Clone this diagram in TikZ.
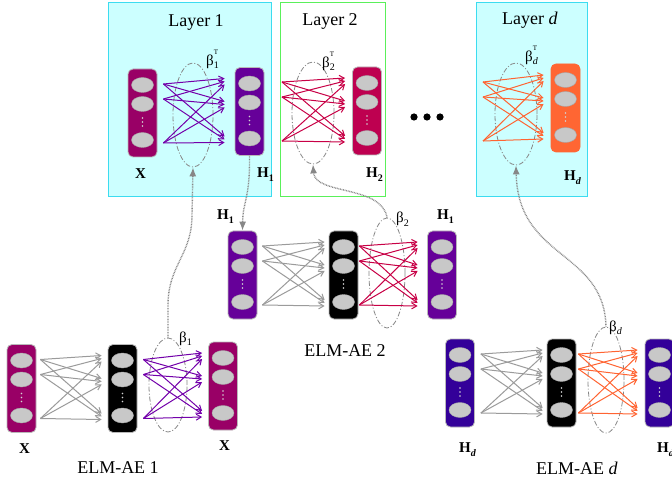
\documentclass[tikz,border=0pt]{standalone}
\usepackage{fontspec}
\setmainfont{Liberation Serif}
\usetikzlibrary{arrows.meta,calc,shapes.geometric}
\definecolor{cyanfill}{RGB}{204,255,255}
\definecolor{cyanline}{RGB}{60,220,240}
\definecolor{greenline}{RGB}{90,240,90}
\definecolor{xcol}{RGB}{153,0,102}
\definecolor{hcol}{RGB}{102,0,153}
\definecolor{htwocol}{RGB}{190,0,80}
\definecolor{hdcol}{RGB}{255,102,51}
\definecolor{hdbcol}{RGB}{51,0,153}
\definecolor{purplearr}{RGB}{115,0,170}
\definecolor{redarr}{RGB}{200,0,70}
\definecolor{orangearr}{RGB}{255,100,50}
\definecolor{grayarr}{RGB}{155,155,155}
\definecolor{cellgray}{RGB}{200,200,200}
\definecolor{linkgray}{RGB}{135,135,135}
\newcommand\Hsub[1]{H\raisebox{-4pt}{\fontsize{10}{10}\selectfont #1}}
\newcommand\betaT[1]{β\rlap{\raisebox{11pt}{\fontsize{7}{7}\selectfont T}}\raisebox{-3pt}{\fontsize{10}{10}\selectfont #1}}
\newcommand\betaS[1]{β\raisebox{-3pt}{\fontsize{10}{10}\selectfont #1}}
\newcommand\cellset[1]{%
  \foreach \dy in {-28,-9,27}{\filldraw[fill=cellgray, draw=gray!70, line width=0.4pt] ($(#1.center)+(0,\dy)$) ellipse [x radius=11pt, y radius=7.5pt];}
  \foreach \dy in {5,9,13}{\fill[gray!35] ($(#1.center)+(0,\dy)$) circle [radius=0.9pt];}
}
\newcommand\bundle[3]{%
  \foreach \s [count=\i] in {-29,-14,30}{
    \foreach \t in {-30,-7,28}{
      \pgfmathsetmacro\tt{\t+(\i-2)*3}
      \draw[wire=#3] ($(#1)+(0,\s)$) -- ($(#2)+(0,\tt)$);
    }}}
\tikzset{
  colbox/.style={draw=gray!55, line width=0.8pt, rounded corners=5pt, minimum width=29pt, minimum height=88pt, inner sep=0pt, fill=#1},
  ringbox/.style={ellipse, draw=linkgray, line width=0.8pt, dash pattern=on 5pt off 2pt on 1pt off 2pt, inner sep=0pt},
  wire/.style={draw=#1, line width=1pt, -{Straight Barb[length=5pt,width=6pt]}},
  link/.style={draw=linkgray, line width=1.4pt, dash pattern=on 0.8pt off 0.8pt, -{Latex[length=9pt,width=7pt]}},
  layerbox/.style={anchor=north west, line width=1pt, inner sep=0pt},
  title/.style={font=\fontsize{18}{21}\selectfont, inner sep=0pt, anchor=base},
  lab/.style={font=\fontsize{15}{17}\selectfont\bfseries, inner sep=0pt, anchor=base west},
  blab/.style={font=\fontsize{15}{17}\selectfont, inner sep=0pt, anchor=base west},
}
\begin{document}
\begin{tikzpicture}[x=1pt,y=-1pt]
\clip (0,0) rectangle (672,481);
\fill[white] (0,0) rectangle (672,481);
% layer boxes
\node[layerbox, draw=cyanline, fill=cyanfill, minimum width=163pt, minimum height=194pt] (B1) at (108,2) {};
\node[layerbox, draw=greenline, fill=white, minimum width=105pt, minimum height=194pt] (B2) at (280,2) {};
\node[layerbox, draw=cyanline, fill=cyanfill, minimum width=111pt, minimum height=194pt] (Bd) at (476,2) {};
\node[title] (T1) at (196,26.5) {Layer 1};
\node[title] (T2) at (330,26) {Layer 2};
\node[title] (Td) at (530,25) {Layer \textit{d}};
% columns
\node[colbox=xcol] (L1X) at (142.5,113) {};
\node[colbox=hcol] (L1H) at (249.5,111.5) {};
\node[colbox=htwocol] (L2H) at (367,111) {};
\node[colbox=hdcol, draw=hdcol] (LdH) at (565.5,108) {};
\node[colbox=hcol] (A2in) at (242.5,275) {};
\node[colbox=black] (A2mid) at (343.5,275) {};
\node[colbox=hcol] (A2out) at (442,275) {};
\node[colbox=xcol] (A1in) at (21.5,388.5) {};
\node[colbox=black] (A1mid) at (122.5,388.5) {};
\node[colbox=xcol] (A1out) at (223,386) {};
\node[colbox=hdbcol] (Adin) at (460,383) {};
\node[colbox=black] (Admid) at (561.5,383) {};
\node[colbox=hdbcol] (Adout) at (659.5,383) {};
\foreach \c in {L1X,L1H,L2H,LdH,A2in,A2mid,A2out,A1in,A1mid,A1out,Adin,Admid,Adout}{\cellset{\c}}
% rings
\node[ringbox, minimum width=40pt, minimum height=104pt] (L1E) at (193,115) {};
\node[ringbox, minimum width=42pt, minimum height=102pt] (L2E) at (313,113) {};
\node[ringbox, minimum width=42pt, minimum height=102pt] (LdE) at (516,114) {};
\node[ringbox, minimum width=36pt, minimum height=110pt] (A2E) at (387,273) {};
\node[ringbox, minimum width=38pt, minimum height=94pt] (A1E) at (168,385) {};
\node[ringbox, minimum width=36pt, minimum height=106pt] (AdE) at (606,380) {};
% bundle end points
\coordinate (s1) at ($(L1X.east)+(6,0)$);
\coordinate (t1) at ($(L1H.west)+(-10,0)$);
\coordinate (s2) at (282,111);
\coordinate (t2) at ($(L2H.west)+(-7,0)$);
\coordinate (s3) at (483,111);
\coordinate (t3) at ($(LdH.west)+(-7,0)$);
\coordinate (a1s) at ($(A1in.east)+(4,0)$);
\coordinate (a1t) at ($(A1mid.west)+(-6,0)$);
\coordinate (b1s) at ($(A1mid.east)+(6,0)$);
\coordinate (b1t) at ($(A1out.west)+(-6,0)$);
\coordinate (a2s) at ($(A2in.east)+(5,0)$);
\coordinate (a2t) at ($(A2mid.west)+(-4,0)$);
\coordinate (b2s) at ($(A2mid.east)+(1,0)$);
\coordinate (b2t) at ($(A2out.west)+(-9.5,0)$);
\coordinate (ads) at ($(Adin.east)+(6,0)$);
\coordinate (adt) at ($(Admid.west)+(-4,0)$);
\coordinate (bds) at ($(Admid.east)+(2,0)$);
\coordinate (bdt) at ($(Adout.west)+(-7,0)$);
\bundle{s1}{t1}{purplearr}
\bundle{s2}{t2}{redarr}
\bundle{s3}{t3}{orangearr}
\bundle{a1s}{a1t}{grayarr}
\bundle{b1s}{b1t}{purplearr}
\bundle{a2s}{a2t}{grayarr}
\bundle{b2s}{b2t}{redarr}
\bundle{ads}{adt}{grayarr}
\bundle{bds}{bdt}{orangearr}
% ellipsis dots
\foreach \x in {414,427,440}{\fill[black] (\x,117) circle [radius=3.6pt];}
% labels
\node[lab] (lx1) at (135,179) {X};
\node[lab] (lh1) at (257,178) {\Hsub{1}};
\node[lab] (lh2) at (366,178) {\Hsub{2}};
\node[lab] (lhd) at (564,181) {\Hsub{\textit{d}}};
\node[blab] (bt1) at (206,66) {\betaT{1}};
\node[blab] (bt2) at (322,68) {\betaT{2}};
\node[blab] (btd) at (525,62) {\betaT{\textit{d}}};
\node[lab] (a2l) at (217,220) {\Hsub{1}};
\node[lab] (a2r) at (437,220) {\Hsub{1}};
\node[blab] (b2) at (396,223) {\betaS{2}};
\node[title] (n2) at (345,356) {ELM-AE 2};
\node[lab] (a1l) at (19,453) {X};
\node[lab] (a1r) at (219,450) {X};
\node[blab] (b1) at (179,342) {\betaS{1}};
\node[title] (n1) at (118,473) {ELM-AE 1};
\node[lab] (adl) at (459,452) {\Hsub{\textit{d}}};
\node[lab] (adr) at (657,452) {\Hsub{\textit{d}}};
\node[blab] (bd) at (609,331) {\betaS{\textit{d}}};
\node[title] (nd) at (577,474) {ELM-AE \textit{d}};
% links
\draw[link] (A1E.north) -- (168,305) .. controls (168,265) and (192,255) .. (192,215) -- (L1E.south);
\draw[link] (L1H.south) .. controls (250,200) and (243,200) .. (A2in.north);
\draw[link] (A2E.north) .. controls (382,185) and (315,195) .. (L2E.south);
\draw[link] (AdE.north) .. controls (604,250) and (518,260) .. (LdE.south);
\end{tikzpicture}
\end{document}
